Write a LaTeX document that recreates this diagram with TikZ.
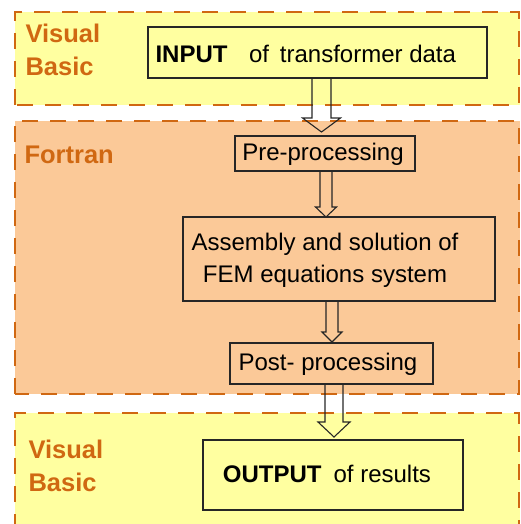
\documentclass[tikz,border=0pt]{standalone}
\usepackage{fontspec}
\setmainfont{Liberation Sans}
\definecolor{vbfill}{RGB}{255,255,160}
\definecolor{ffill}{RGB}{251,201,152}
\definecolor{dashc}{RGB}{208,104,18}
\tikzset{
  region/.style={draw=dashc, line width=2.8pt, dash pattern=on 16pt off 12pt},
  stepbox/.style={draw=black!85, line width=1.1pt, inner sep=0pt},
  lang/.style={text=dashc, font=\fontsize{25.5}{33}\selectfont\bfseries, align=left, anchor=west},
  boxtext/.style={font=\fontsize{24}{32}\selectfont, text=black},
  barrow/.style={draw=black!85, line width=1.1pt},
}
\newcommand\blockarr[6]{% x, y1, y2, shaft half, head half, head length
  \draw[barrow] (#1-#4,#2) -- (#1-#4,#3-#6) -- (#1-#5,#3-#6) -- (#1,#3) -- (#1+#5,#3-#6) -- (#1+#4,#3-#6) -- (#1+#4,#2);}
\begin{document}
\begin{tikzpicture}[x=1pt,y=-1pt]
\useasboundingbox (0,0) rectangle (521,524);
% regions
\path[fill=vbfill] (15,12) rectangle (520,105);
\draw[region] (15,105) -- (15,12) -- (519,12) -- (519,105) -- cycle;
\path[fill=ffill] (15,121) rectangle (520,394);
\draw[region] (15,394) -- (15,121) -- (519,121) -- (519,394) -- cycle;
\path[fill=vbfill] (15,413) rectangle (520,524);
\draw[region] (15,530) -- (15,413) -- (519,413) -- (519,530);
% language labels
\node[lang] (vb1) at (22,50) {Visual\\Basic};
\node[lang] (ft) at (21,155) {Fortran};
\node[lang] (vb2) at (25,466) {Visual\\Basic};
% boxes
\node[stepbox, fill=vbfill, minimum width=339pt, minimum height=51pt] (in) at (317.5,52.5) {};
\node[boxtext, anchor=west] (intext) at (152,54) {\textbf{INPUT}\hspace{0.9em}of\hspace{0.45em}transformer data};
\node[stepbox, minimum width=180pt, minimum height=35pt] (pre) at (325,153.5) {};
\node[boxtext] (pretext) at (323,154) {Pre-processing};
\node[stepbox, minimum width=312pt, minimum height=84pt] (asm) at (339,259) {};
\node[boxtext, align=center] (asmtext) at (325,260) {Assembly and solution of\\FEM equations system};
\node[stepbox, minimum width=203pt, minimum height=41pt] (post) at (331.5,363.5) {};
\node[boxtext] (posttext) at (328,364) {Post- processing};
\node[stepbox, fill=vbfill, minimum width=260pt, minimum height=70pt] (out) at (333,475) {};
\node[boxtext] (outtext) at (327,474) {\textbf{OUTPUT}\hspace{0.5em}of results};
% block arrows
\blockarr{321.5}{78}{132}{9.5}{19}{14}
\blockarr{326}{171}{217}{6}{10.5}{10}
\blockarr{332}{301}{342}{6}{10}{10}
\blockarr{334}{384}{437}{9}{16}{15}
\end{tikzpicture}
\end{document}
